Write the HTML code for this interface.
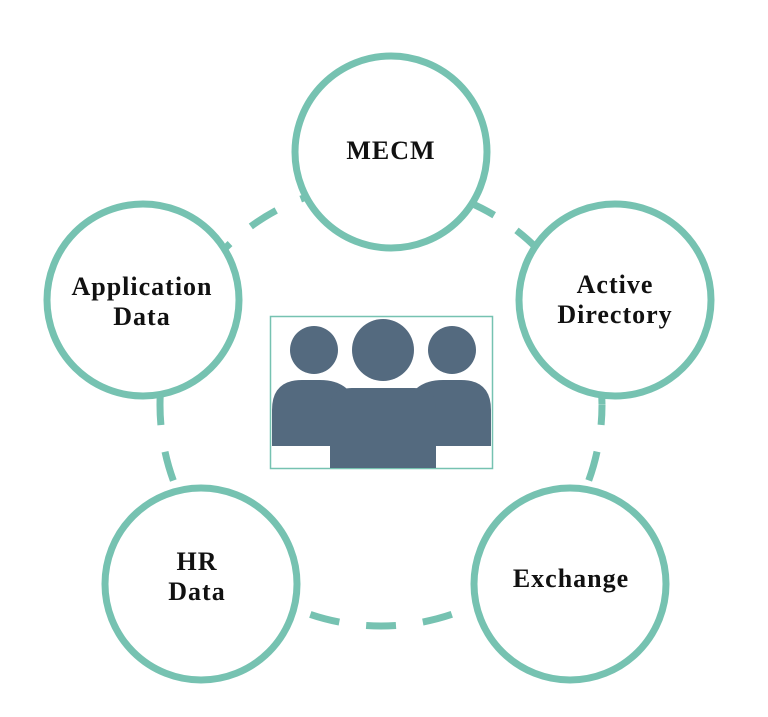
<!DOCTYPE html>
<html><head><meta charset="utf-8"><style>
html,body{margin:0;padding:0;background:#fff;width:768px;height:717px;overflow:hidden}
</style></head><body>
<svg width="768" height="717" viewBox="0 0 768 717" xmlns="http://www.w3.org/2000/svg">
<circle cx="381" cy="405" r="221" fill="none" stroke="#76c2b1" stroke-width="7" stroke-dasharray="30 27" stroke-dashoffset="10"/>
<g fill="#fff" stroke="#76c2b1" stroke-width="7">
<circle cx="391" cy="152" r="96"/>
<circle cx="615" cy="300" r="96"/>
<circle cx="570" cy="584" r="96"/>
<circle cx="201" cy="584" r="96"/>
<circle cx="143" cy="300" r="96"/>
</g>
<rect x="270.5" y="316.5" width="222" height="152" fill="#fff" stroke="#76c2b1" stroke-width="1.5"/>
<g fill="#546a7f">
<circle cx="314" cy="350" r="24"/>
<circle cx="452" cy="350" r="24"/>
<circle cx="383" cy="350" r="31"/>
<path d="M272 446 V410 Q272 380 302 380 H320 Q340 380 350 392 V446 Z"/>
<path d="M491 446 V410 Q491 380 461 380 H443 Q423 380 413 392 V446 Z"/>
<path d="M330 468 V408 Q330 388 352 388 H414 Q436 388 436 408 V468 Z"/>
</g>
<g font-family="'Liberation Serif',serif" font-weight="bold" font-size="26" letter-spacing="1" fill="#111" text-anchor="middle">
<text x="391" y="159">MECM</text>
<text x="615" y="293">Active</text>
<text x="615" y="323">Directory</text>
<text x="571" y="587">Exchange</text>
<text x="197" y="570">HR</text>
<text x="197" y="600">Data</text>
<text x="142" y="295">Application</text>
<text x="142" y="325">Data</text>
</g>
</svg>
</body></html>
